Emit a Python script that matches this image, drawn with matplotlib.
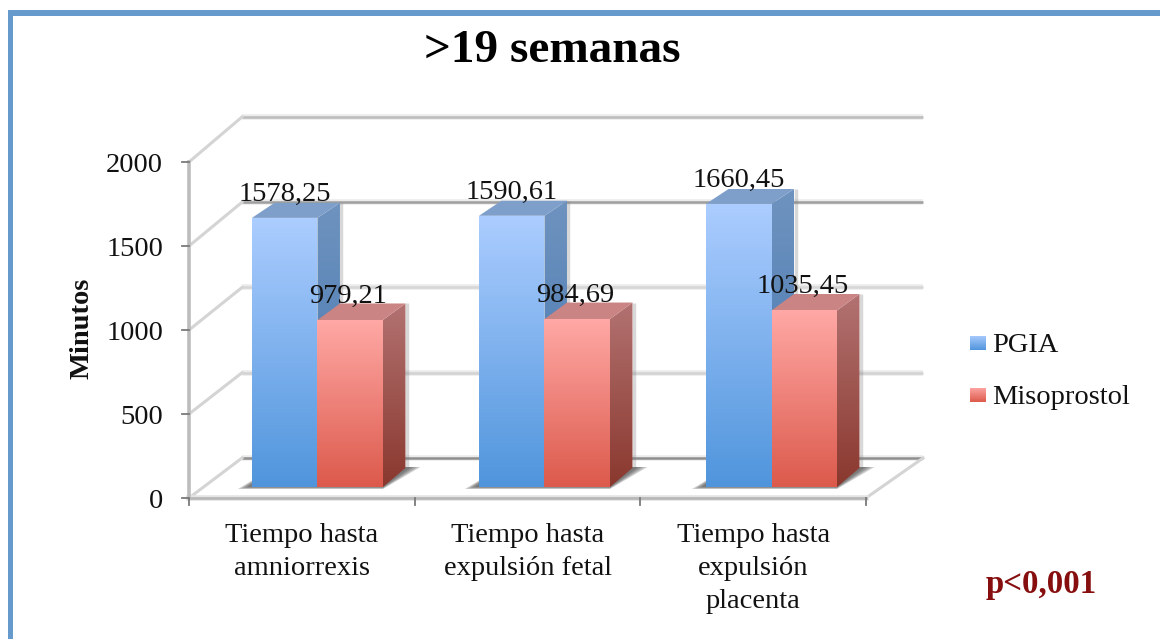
import numpy as np
import matplotlib
matplotlib.use("Agg")
import matplotlib.pyplot as plt
from matplotlib.patches import Polygon, Rectangle

# -----------------------------
# Data
# -----------------------------
categories = ["Tiempo hasta\namniorrexis", "Tiempo hasta\nexpulsión fetal", "Tiempo hasta\nexpulsión\nplacenta"]
pgia = [1578.25, 1590.61, 1660.45]
misoprostol = [979.21, 984.69, 1035.45]
pgia_labels = ["1578,25", "1590,61", "1660,45"]
miso_labels = ["979,21", "984,69", "1035,45"]
y_ticks = [0, 500, 1000, 1500, 2000]
series_names = ["PGIA", "Misoprostol"]

# -----------------------------
# Layout (pixels of the 1160x639 image)
# -----------------------------
W, H = 1160, 639
AX_L, AX_R, AX_B, AX_T = 189, 866, 498, 162
PX_X = 3 / (AX_R - AX_L)
PX_Y = 2000 / (AX_B - AX_T)
FONT = "Liberation Serif"
TXT = "#111111"

fig = plt.figure(figsize=(W / 100, H / 100), dpi=100)
ax = fig.add_axes([AX_L / W, 1 - AX_B / H, (AX_R - AX_L) / W, (AX_B - AX_T) / H])
ax.set_xlim(0, 3)
ax.set_ylim(0, 2000)
ax.axis("off")


def xp(px):
    return (px - AX_L) * PX_X


def yp(py):
    return (AX_B - py) * PX_Y


def back_x(x):
    return 53 * PX_X + x * 1.006


def back_y(v):
    return 40 * PX_Y + v * 1.015


def gradient_poly(points, top, bottom, z):
    # polygon filled with a vertical gradient
    points = np.array(points)
    c0 = np.array(matplotlib.colors.to_rgb(top))
    c1 = np.array(matplotlib.colors.to_rgb(bottom))
    t = np.linspace(0, 1, 128)[:, None]
    img = (c0 + (c1 - c0) * t)[:, None, :]
    extent = [points[:, 0].min(), points[:, 0].max(), points[:, 1].min(), points[:, 1].max()]
    im = ax.imshow(img, extent=extent, aspect="auto", zorder=z, origin="upper", interpolation="bilinear")
    patch = Polygon(points, closed=True, transform=ax.transData, facecolor="none", edgecolor="none")
    im.set_clip_box(fig.bbox)
    im.set_clip_path(patch)
    ax.set_xlim(0, 3)
    ax.set_ylim(0, 2000)
    return im


# -----------------------------
# Outer frame
# -----------------------------
frame = fig.add_axes([0, 0, 1, 1], zorder=-1)
frame.set_xlim(0, W)
frame.set_ylim(H, 0)
frame.axis("off")
frame.add_patch(Rectangle((8, 10), W, 6, color="#6699CC", lw=0))
frame.add_patch(Rectangle((8, 10), 5, H, color="#6699CC", lw=0))

# -----------------------------
# Walls and gridlines
# -----------------------------
grid_colors = {0: "#8E8E8E", 500: "#D2D2D2", 1000: "#D6D6D6", 1500: "#9E9E9E", 2000: "#BCBCBC"}
for v in y_ticks:
    xs = [back_x(0), back_x(3)]
    ys = [back_y(v), back_y(v)]
    ax.plot(xs, ys, color="#EBEBEB", lw=4, clip_on=False, zorder=1, solid_capstyle="butt")
    ax.plot(xs, ys, color=grid_colors[v], lw=1.8, clip_on=False, zorder=1.1, solid_capstyle="butt")
    ax.plot([0, back_x(0)], [v, back_y(v)], color="#D4D4D4", lw=2.2, clip_on=False, zorder=1.2)
    ax.plot([-7 * PX_X, 0], [v, v], color="#7A7A7A", lw=1.3, clip_on=False, zorder=2)

ax.plot([3, back_x(3)], [0, back_y(0)], color="#D4D4D4", lw=2.2, clip_on=False, zorder=1.2)
ax.plot([0, 0], [0, 2000], color="#BDBDBD", lw=2.6, clip_on=False, zorder=1.3)
ax.plot([0, 3], [0, 0], color="#E4E4E4", lw=4, clip_on=False, zorder=1.2)
ax.plot([0, 3], [0, 0], color="#B8B8B8", lw=2, clip_on=False, zorder=1.3)
for i in range(4):
    ax.plot([i, i], [0, -7 * PX_Y], color="#7A7A7A", lw=1.3, clip_on=False, zorder=2)

# -----------------------------
# Bars
# -----------------------------
BAR_W = 65.5 * PX_X
BAR_DX = 22.5 * PX_X
BAR_BASE = 11 * PX_Y


def bar_depth(v):
    return (19 - v * 0.0025) * PX_Y


def draw_bar(left, v, front, side, top, z):
    y1 = BAR_BASE + v * 1.015
    right = left + BAR_W
    d0, d1 = bar_depth(0), bar_depth(v)
    # soft edge along the back of the side face
    ax.plot([right + BAR_DX + 1.5 * PX_X] * 2, [BAR_BASE + d0, y1 + d1], color="#808080", lw=2.5, alpha=0.3,
            clip_on=False, zorder=z - 0.1, solid_capstyle="butt")
    gradient_poly([(right, BAR_BASE), (right + BAR_DX, BAR_BASE + d0),
                   (right + BAR_DX, y1 + d1), (right, y1)], side[0], side[1], z)
    ax.add_patch(Polygon([(left, y1), (right, y1), (right + BAR_DX, y1 + d1), (left + BAR_DX, y1 + d1)],
                         closed=True, facecolor=top, edgecolor="none", clip_on=False, zorder=z))
    gradient_poly([(left, BAR_BASE), (right, BAR_BASE), (right, y1), (left, y1)], front[0], front[1], z + 0.1)


for i in range(3):
    left = 0.279 + i * 1.006
    # soft floor shadow under the pair of bars
    for grow in [0, 3, 6, 9]:
        sx0 = left - (14 - grow) * PX_X
        sx1 = left + 2 * BAR_W + BAR_DX + (15 - grow) * PX_X
        ax.add_patch(Polygon([(sx0, BAR_BASE - (2 - grow / 5) * PX_Y), (left + 2 * BAR_W, BAR_BASE - (2 - grow / 5) * PX_Y),
                              (sx1, BAR_BASE + 20 * PX_Y), (left + BAR_DX, BAR_BASE + 20 * PX_Y)],
                             closed=True, facecolor="#404040", edgecolor="none", alpha=0.25, clip_on=False, zorder=3))
    draw_bar(left, pgia[i], ("#ACCDFF", "#5095DC"), ("#6F93BF", "#3F74AE"), "#7F9FCB", 4)
    draw_bar(left + BAR_W, misoprostol[i], ("#FFA8A5", "#DC5A4C"), ("#B27271", "#8A382E"), "#C98483", 5)
    ax.text(left + BAR_W / 2, BAR_BASE + pgia[i] * 1.015 + 26 * PX_Y, pgia_labels[i], ha="center", va="center_baseline",
            fontsize=20.5, family=FONT, color=TXT, zorder=8, clip_on=False)
    ax.text(left + BAR_W * 1.47, BAR_BASE + misoprostol[i] * 1.015 + 27 * PX_Y, miso_labels[i], ha="center", va="center_baseline",
            fontsize=20.5, family=FONT, color=TXT, zorder=8, clip_on=False)

# -----------------------------
# Axis text
# -----------------------------
for v in y_ticks:
    ax.text(xp(163), v, str(v), ha="right", va="center_baseline", fontsize=20.5, family=FONT, color=TXT)

for i, name in enumerate(categories):
    ax.text(i + 0.5, yp(523), name, ha="center", va="top", fontsize=20.5, family=FONT, color=TXT, linespacing=1.41)

ax.text(xp(82), yp(328), "Minutos", rotation=90, ha="center", va="center", fontsize=20.5, family=FONT,
        fontweight="bold", color=TXT)
ax.text(xp(552), yp(51), ">19 semanas", ha="center", va="center", fontsize=34, family=FONT,
        fontweight="bold", color="#000000")
ax.text(xp(1041), yp(584), "p<0,001", ha="center", va="center", fontsize=23.7, family=FONT,
        fontweight="bold", color="#860E0E")

# -----------------------------
# Legend
# -----------------------------
legend_colors = [("#ACCDFF", "#5095DC"), ("#FFA8A5", "#DC5A4C")]
for name, cols, py in zip(series_names, legend_colors, [343, 395]):
    gradient_poly([(xp(970), yp(py + 7.5)), (xp(986), yp(py + 7.5)), (xp(986), yp(py - 7.5)), (xp(970), yp(py - 7.5))],
                  cols[0], cols[1], 6)
    ax.text(xp(992), yp(py), name, ha="left", va="center_baseline", fontsize=20.5, family=FONT, color=TXT)

fig.savefig("out.png", dpi=100)
